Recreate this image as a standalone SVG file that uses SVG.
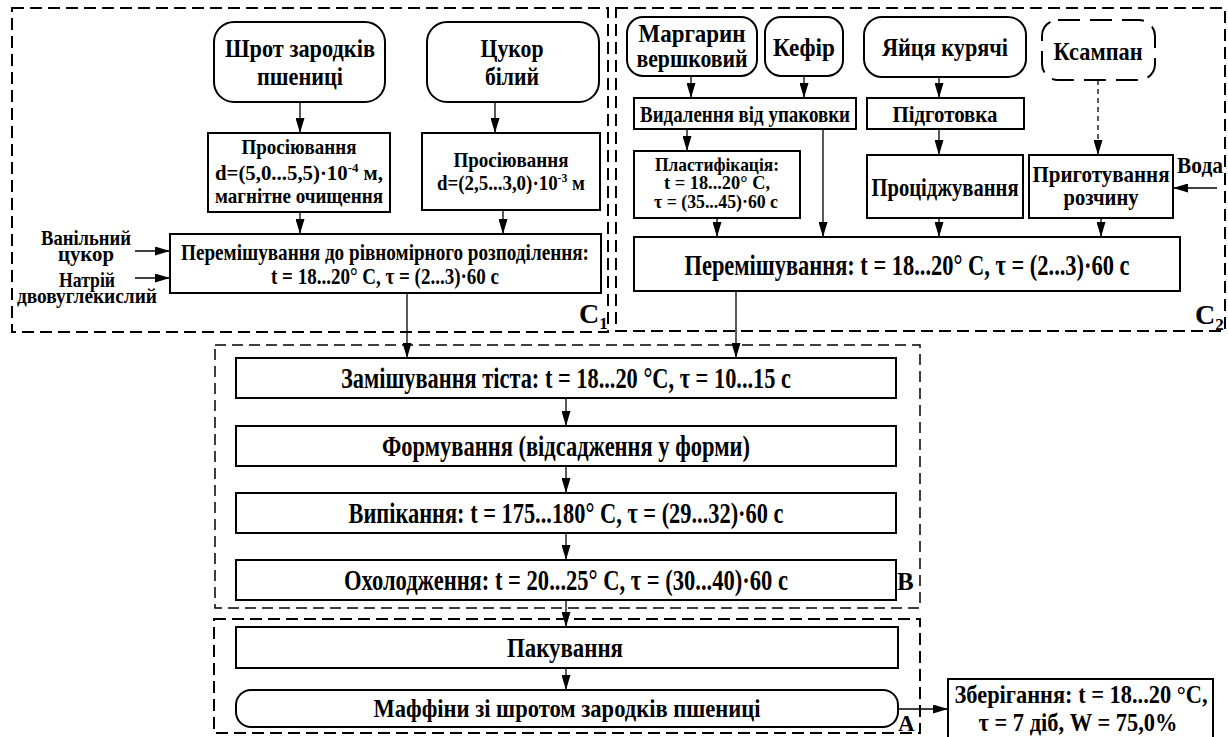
<svg xmlns="http://www.w3.org/2000/svg" width="1228" height="737" viewBox="0 0 1228 737" font-family="'Liberation Serif', 'DejaVu Serif', serif">
  <style>
    .bg { fill: #ffffff; }
    .box { fill: #ffffff; stroke: #000000; stroke-width: 2; }
    .grp { fill: none; stroke: #000000; stroke-width: 2; stroke-dasharray: 12 6; }
    .grpB { fill: none; stroke: #000000; stroke-width: 1.5; stroke-dasharray: 11 6; }
    .dbox { fill: #ffffff; stroke: #000000; stroke-width: 2; stroke-dasharray: 22 10; }
    .ln { fill: none; stroke: #000000; stroke-width: 1.3; }
    .dln { fill: none; stroke: #000000; stroke-width: 1.3; stroke-dasharray: 5 4; }
    text { font-family: "Liberation Serif", "DejaVu Serif", serif; font-weight: bold; fill: #000000; }
    .c { text-anchor: middle; }
  </style>
  <defs>
    <marker id="ah" markerUnits="userSpaceOnUse" markerWidth="15" markerHeight="9" refX="15" refY="4.5" orient="auto">
      <path d="M0,0 L15,4.5 L0,9 Z" fill="#000000"/>
    </marker>
  </defs>

  <rect class="bg" x="0" y="0" width="1228" height="737"/>

  <!-- stage frames -->
  <g id="frames">
    <rect class="grp" x="12" y="8" width="596" height="324"/>
    <rect class="grp" x="616" y="8" width="609" height="323"/>
    <rect class="grpB" x="215" y="345" width="705" height="263"/>
    <rect class="grp" x="214" y="619" width="706" height="114"/>
    <text x="579" y="323" font-size="28">C<tspan font-size="17" dy="6">1</tspan></text>
    <text x="1195" y="324" font-size="28">C<tspan font-size="17" dy="6">2</tspan></text>
    <text x="897" y="590" font-size="25">B</text>
    <text x="898" y="731" font-size="23">A</text>
  </g>

  <!-- connectors -->
  <g id="connectors">
    <line class="ln" x1="300" y1="102" x2="300" y2="133" marker-end="url(#ah)"/>
    <line class="ln" x1="495" y1="102" x2="495" y2="133" marker-end="url(#ah)"/>
    <line class="ln" x1="300" y1="212" x2="300" y2="234" marker-end="url(#ah)"/>
    <line class="ln" x1="503" y1="210" x2="503" y2="234" marker-end="url(#ah)"/>
    <line class="ln" x1="135" y1="251" x2="170" y2="251" marker-end="url(#ah)"/>
    <line class="ln" x1="135" y1="278" x2="170" y2="278" marker-end="url(#ah)"/>
    <line class="ln" x1="407" y1="293" x2="407" y2="358" marker-end="url(#ah)"/>
    <line class="ln" x1="736" y1="291" x2="736" y2="358" marker-end="url(#ah)"/>

    <line class="ln" x1="691" y1="76" x2="691" y2="98" marker-end="url(#ah)"/>
    <line class="ln" x1="804" y1="76" x2="804" y2="98" marker-end="url(#ah)"/>
    <line class="ln" x1="939" y1="77" x2="939" y2="98" marker-end="url(#ah)"/>
    <line class="ln" x1="687" y1="129" x2="687" y2="151" marker-end="url(#ah)"/>
    <line class="ln" x1="823" y1="129" x2="823" y2="237" marker-end="url(#ah)"/>
    <line class="ln" x1="939" y1="129" x2="939" y2="155" marker-end="url(#ah)"/>
    <line class="dln" x1="1098" y1="80" x2="1098" y2="155" marker-end="url(#ah)"/>
    <line class="ln" x1="1217" y1="188" x2="1173" y2="188" marker-end="url(#ah)"/>
    <line class="ln" x1="717" y1="218" x2="717" y2="237" marker-end="url(#ah)"/>
    <line class="ln" x1="939" y1="218" x2="939" y2="237" marker-end="url(#ah)"/>
    <line class="ln" x1="1101" y1="218" x2="1101" y2="237" marker-end="url(#ah)"/>

    <line class="ln" x1="566" y1="398" x2="566" y2="426" marker-end="url(#ah)"/>
    <line class="ln" x1="566" y1="466" x2="566" y2="493" marker-end="url(#ah)"/>
    <line class="ln" x1="566" y1="533" x2="566" y2="560" marker-end="url(#ah)"/>
    <line class="ln" x1="566" y1="600" x2="566" y2="627" marker-end="url(#ah)"/>
    <line class="ln" x1="566" y1="668" x2="566" y2="690" marker-end="url(#ah)"/>
    <line class="ln" x1="898" y1="709" x2="948" y2="709" marker-end="url(#ah)"/>
  </g>

  <!-- dry ingredients -->
  <g id="n-shrot">
    <rect class="box" x="214" y="22" width="171" height="80" rx="20"/>
    <text class="c" x="300" y="57" font-size="26" textLength="150" lengthAdjust="spacingAndGlyphs">Шрот зародків</text>
    <text class="c" x="300" y="85" font-size="26" textLength="86" lengthAdjust="spacingAndGlyphs">пшениці</text>
  </g>
  <g id="n-sugar">
    <rect class="box" x="427" y="22" width="172" height="80" rx="20"/>
    <text class="c" x="512" y="57" font-size="26" textLength="63" lengthAdjust="spacingAndGlyphs">Цукор</text>
    <text class="c" x="512" y="85" font-size="26" textLength="54" lengthAdjust="spacingAndGlyphs">білий</text>
  </g>
  <g id="n-sift1">
    <rect class="box" x="208" y="133" width="182" height="79"/>
    <text class="c" x="299" y="154" font-size="21" textLength="115" lengthAdjust="spacingAndGlyphs">Просіювання</text>
    <text class="c" x="299" y="180" font-size="21" textLength="168" lengthAdjust="spacingAndGlyphs">d=(5,0...5,5)·10<tspan font-size="13" dy="-8">-4</tspan><tspan dy="8"> м,</tspan></text>
    <text class="c" x="299" y="203" font-size="21" textLength="168" lengthAdjust="spacingAndGlyphs">магнітне очищення</text>
  </g>
  <g id="n-sift2">
    <rect class="box" x="422" y="133" width="178" height="77"/>
    <text class="c" x="511" y="167" font-size="21" textLength="115" lengthAdjust="spacingAndGlyphs">Просіювання</text>
    <text class="c" x="511" y="190" font-size="21" textLength="148" lengthAdjust="spacingAndGlyphs">d=(2,5...3,0)·10<tspan font-size="13" dy="-8">-3</tspan><tspan dy="8"> м</tspan></text>
  </g>
  <g id="n-mix1">
    <rect class="box" x="170" y="234" width="431" height="59"/>
    <text class="c" x="385" y="260" font-size="24" textLength="408" lengthAdjust="spacingAndGlyphs">Перемішування до рівномірного розподілення:</text>
    <text class="c" x="385" y="284" font-size="24" textLength="228" lengthAdjust="spacingAndGlyphs">t = 18...20° C, τ = (2...3)·60 с</text>
  </g>
  <g id="n-additives">
    <text class="c" x="86" y="245" font-size="21" textLength="90" lengthAdjust="spacingAndGlyphs">Ванільний</text>
    <text class="c" x="86" y="261" font-size="21" textLength="56" lengthAdjust="spacingAndGlyphs">цукор</text>
    <text class="c" x="87" y="287" font-size="21" textLength="56" lengthAdjust="spacingAndGlyphs">Натрій</text>
    <text class="c" x="87" y="303" font-size="21" textLength="140" lengthAdjust="spacingAndGlyphs">двовуглекислий</text>
  </g>

  <!-- wet ingredients -->
  <g id="n-margarine">
    <rect class="box" x="627" y="17" width="130" height="59" rx="16"/>
    <text class="c" x="692" y="42" font-size="26" textLength="107" lengthAdjust="spacingAndGlyphs">Маргарин</text>
    <text class="c" x="692" y="67" font-size="26" textLength="111" lengthAdjust="spacingAndGlyphs">вершковий</text>
  </g>
  <g id="n-kefir">
    <rect class="box" x="765" y="17" width="78" height="59" rx="16"/>
    <text class="c" x="804" y="56" font-size="26" textLength="62" lengthAdjust="spacingAndGlyphs">Кефір</text>
  </g>
  <g id="n-eggs">
    <rect class="box" x="864" y="17" width="162" height="60" rx="18"/>
    <text class="c" x="945" y="56" font-size="26" textLength="126" lengthAdjust="spacingAndGlyphs">Яйця курячі</text>
  </g>
  <g id="n-xampan">
    <rect class="dbox" x="1042" y="20" width="113" height="60" rx="16"/>
    <text class="c" x="1098" y="60" font-size="26" textLength="89" lengthAdjust="spacingAndGlyphs">Ксампан</text>
  </g>
  <g id="n-unpack">
    <rect class="box" x="634" y="98" width="222" height="31"/>
    <text class="c" x="745" y="122" font-size="23" textLength="210" lengthAdjust="spacingAndGlyphs">Видалення від упаковки</text>
  </g>
  <g id="n-prep">
    <rect class="box" x="867" y="98" width="157" height="31"/>
    <text class="c" x="945" y="122" font-size="23" textLength="105" lengthAdjust="spacingAndGlyphs">Підготовка</text>
  </g>
  <g id="n-plastic">
    <rect class="box" x="634" y="151" width="166" height="67"/>
    <text class="c" x="717" y="171" font-size="19" textLength="124" lengthAdjust="spacingAndGlyphs">Пластифікація:</text>
    <text class="c" x="717" y="189" font-size="19" textLength="106" lengthAdjust="spacingAndGlyphs">t = 18...20° C,</text>
    <text class="c" x="716" y="208" font-size="19" textLength="124" lengthAdjust="spacingAndGlyphs">τ = (35...45)·60 с</text>
  </g>
  <g id="n-strain">
    <rect class="box" x="867" y="155" width="156" height="63"/>
    <text class="c" x="945" y="196" font-size="25" textLength="147" lengthAdjust="spacingAndGlyphs">Проціджування</text>
  </g>
  <g id="n-solution">
    <rect class="box" x="1029" y="155" width="144" height="63"/>
    <text class="c" x="1101" y="182" font-size="24" textLength="137" lengthAdjust="spacingAndGlyphs">Приготування</text>
    <text class="c" x="1101" y="205" font-size="24" textLength="75" lengthAdjust="spacingAndGlyphs">розчину</text>
  </g>
  <g id="n-water">
    <text class="c" x="1200" y="173" font-size="24" textLength="46" lengthAdjust="spacingAndGlyphs">Вода</text>
  </g>
  <g id="n-mix2">
    <rect class="box" x="634" y="237" width="546" height="54"/>
    <text class="c" x="907" y="275" font-size="30" textLength="445" lengthAdjust="spacingAndGlyphs">Перемішування: t = 18...20° C, τ = (2...3)·60 с</text>
  </g>

  <!-- baking line -->
  <g id="n-knead">
    <rect class="box" x="236" y="358" width="660" height="40"/>
    <text class="c" x="566" y="388" font-size="29" textLength="450" lengthAdjust="spacingAndGlyphs">Замішування тіста: t = 18...20 °C, τ = 10...15 с</text>
  </g>
  <g id="n-form">
    <rect class="box" x="236" y="426" width="660" height="40"/>
    <text class="c" x="566" y="456" font-size="29" textLength="368" lengthAdjust="spacingAndGlyphs">Формування (відсадження у форми)</text>
  </g>
  <g id="n-bake">
    <rect class="box" x="236" y="493" width="660" height="40"/>
    <text class="c" x="566" y="523" font-size="29" textLength="435" lengthAdjust="spacingAndGlyphs">Випікання: t = 175...180° C, τ = (29...32)·60 с</text>
  </g>
  <g id="n-cool">
    <rect class="box" x="236" y="560" width="660" height="40"/>
    <text class="c" x="566" y="590" font-size="29" textLength="444" lengthAdjust="spacingAndGlyphs">Охолодження: t = 20...25° C, τ = (30...40)·60 с</text>
  </g>

  <!-- packing and product -->
  <g id="n-pack">
    <rect class="box" x="236" y="627" width="662" height="41"/>
    <text class="c" x="565" y="657" font-size="27" textLength="116" lengthAdjust="spacingAndGlyphs">Пакування</text>
  </g>
  <g id="n-muffins">
    <rect class="box" x="236" y="690" width="662" height="37" rx="15"/>
    <text class="c" x="567" y="717" font-size="26" textLength="387" lengthAdjust="spacingAndGlyphs">Маффіни зі шротом зародків пшениці</text>
  </g>
  <g id="n-storage">
    <rect class="box" x="948" y="679" width="265" height="62"/>
    <text class="c" x="1081" y="703" font-size="25" textLength="253" lengthAdjust="spacingAndGlyphs">Зберігання: t = 18...20 °C,</text>
    <text class="c" x="1078" y="731" font-size="25" textLength="199" lengthAdjust="spacingAndGlyphs">τ = 7 діб, W = 75,0%</text>
  </g>
</svg>
